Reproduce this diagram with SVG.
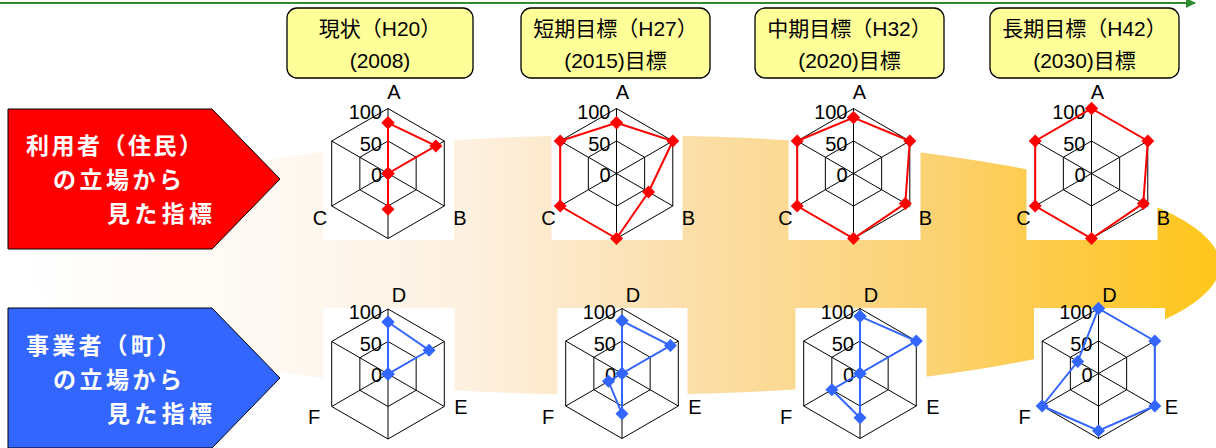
<svg xmlns="http://www.w3.org/2000/svg" xmlns:xlink="http://www.w3.org/1999/xlink" width="1216" height="448" viewBox="0 0 1216 448">
<style>
.hdr{fill:#FFFF99;stroke:#000;stroke-width:1.3}
.ht{font-family:"Liberation Sans","Noto Sans CJK JP",sans-serif;font-size:21px;fill:#000;text-anchor:middle}
.at{font-family:"Noto Sans CJK JP",sans-serif;font-size:23px;font-weight:bold;fill:#fff}
.grid{fill:none;stroke:#000;stroke-width:1}
.lbl{font-family:"Liberation Sans",sans-serif;font-size:20px;fill:#000}
.sc{font-family:"Liberation Sans",sans-serif;font-size:20px;fill:#000;text-anchor:end}
.pr{fill:none;stroke:#FF0000;stroke-width:2;marker-start:url(#mr);marker-mid:url(#mr);marker-end:url(#mr)}
.pb{fill:none;stroke:#3366FF;stroke-width:2;marker-start:url(#mb);marker-mid:url(#mb);marker-end:url(#mb)}
.wb{fill:#fff}
</style>
<defs>
<linearGradient id="band" gradientUnits="userSpaceOnUse" x1="20" y1="0" x2="1220" y2="0">
<stop offset="0" stop-color="#FFFFFF"/>
<stop offset="0.23" stop-color="#FEF8F0"/>
<stop offset="0.375" stop-color="#FDF0DF"/>
<stop offset="0.43" stop-color="#FDEBD0"/>
<stop offset="0.56" stop-color="#FBDEA8"/>
<stop offset="0.77" stop-color="#FCD270"/>
<stop offset="0.825" stop-color="#FDCD55"/>
<stop offset="1" stop-color="#FFC61A"/>
</linearGradient>
<marker id="mr" viewBox="-7 -7 14 14" markerWidth="14" markerHeight="14" markerUnits="userSpaceOnUse" refX="0" refY="0" overflow="visible"><path d="M0,-6.5 6.5,0 0,6.5 -6.5,0Z" fill="#FF0000"/></marker>
<marker id="mb" viewBox="-7 -7 14 14" markerWidth="14" markerHeight="14" markerUnits="userSpaceOnUse" refX="0" refY="0" overflow="visible"><path d="M0,-6.5 6.5,0 0,6.5 -6.5,0Z" fill="#3366FF"/></marker>
<marker id="ga" viewBox="0 0 10 10" markerWidth="10" markerHeight="10" markerUnits="userSpaceOnUse" refX="9" refY="5" orient="auto"><path d="M0,0 10,5 0,10Z" fill="#2E8B2E"/></marker>
<g id="grid">
<polygon class="grid" points="0,-65 56.29,-32.5 56.29,32.5 0,65 -56.29,32.5 -56.29,-32.5"/>
<polygon class="grid" points="0,-32.5 28.15,-16.25 28.15,16.25 0,32.5 -28.15,16.25 -28.15,-16.25"/>
<path class="grid" d="M0,-65V65M-56.29,-32.5L56.29,32.5M56.29,-32.5L-56.29,32.5"/>
<text class="sc" x="-6" y="-55">100</text>
<text class="sc" x="-6" y="-23">50</text>
<text class="sc" x="-6" y="8">0</text>
</g>
</defs>
<rect width="1216" height="448" fill="#fff"/>

<g id="band-arrow">
<ellipse cx="620" cy="265" rx="600" ry="130" fill="url(#band)"/>
</g>

<g id="connectors">
<line x1="0" y1="3" x2="1195" y2="3" stroke="#2E8B2E" stroke-width="2" marker-end="url(#ga)"/>
</g>

<g id="hdr1"><rect class="hdr" x="287" y="8" width="186" height="70" rx="10"/><text class="ht" x="380" y="36">現状（H20）</text><text class="ht" x="380" y="68">(2008)</text></g>
<g id="hdr2"><rect class="hdr" x="521" y="8" width="189" height="70" rx="10"/><text class="ht" x="615.5" y="36">短期目標（H27）</text><text class="ht" x="615.5" y="68">(2015)目標</text></g>
<g id="hdr3"><rect class="hdr" x="755" y="8" width="189" height="70" rx="10"/><text class="ht" x="849.5" y="36">中期目標（H32）</text><text class="ht" x="849.5" y="68">(2020)目標</text></g>
<g id="hdr4"><rect class="hdr" x="990" y="8" width="189" height="70" rx="10"/><text class="ht" x="1084.5" y="36">長期目標（H42）</text><text class="ht" x="1084.5" y="68">(2030)目標</text></g>

<g id="arrow-resident">
<polygon points="8,109 212,109 280,179 212,249 8,249" fill="#FF0000" stroke="#000" stroke-width="1"/>
<text class="at" x="26" y="154" textLength="176" lengthAdjust="spacing">利用者（住民）</text>
<text class="at" x="53" y="187.5" textLength="129" lengthAdjust="spacing">の立場から</text>
<text class="at" x="107" y="222" textLength="105" lengthAdjust="spacing">見た指標</text>
</g>
<g id="arrow-business">
<polygon points="8,308 212,308 280,378 212,448 8,448" fill="#3366FF" stroke="#000" stroke-width="1"/>
<text class="at" x="26" y="354" textLength="154" lengthAdjust="spacing">事業者（町）</text>
<text class="at" x="53" y="387.5" textLength="129" lengthAdjust="spacing">の立場から</text>
<text class="at" x="107" y="422" textLength="105" lengthAdjust="spacing">見た指標</text>
</g>

<g id="chart-a1" transform="translate(388,173.5)">
<rect class="wb" x="-65" y="-65.5" width="131" height="132"/>
<use xlink:href="#grid" href="#grid"/>
<polygon class="pr" points="0,-50.7 47.85,-27.6 0,0 0,35.75 0,0 0,0"/>
<text class="lbl" x="6" y="-75" text-anchor="middle">A</text>
<text class="lbl" x="72" y="51.5" text-anchor="middle">B</text>
<text class="lbl" x="-68" y="51.5" text-anchor="middle">C</text>
</g>
<g id="chart-a2" transform="translate(616.5,173.5)">
<rect class="wb" x="-65" y="-65.5" width="131" height="132"/>
<use xlink:href="#grid" href="#grid"/>
<polygon class="pr" points="0,-50.7 56.29,-32.5 32.09,18.53 0,65 -56.29,32.5 -56.29,-32.5"/>
<text class="lbl" x="6" y="-75" text-anchor="middle">A</text>
<text class="lbl" x="72" y="51.5" text-anchor="middle">B</text>
<text class="lbl" x="-68" y="51.5" text-anchor="middle">C</text>
</g>
<g id="chart-a3" transform="translate(853.5,173.5)">
<rect class="wb" x="-65" y="-65.5" width="132" height="132"/>
<use xlink:href="#grid" href="#grid"/>
<polygon class="pr" points="0,-55.9 56.29,-32.5 51.79,29.9 0,65 -56.29,32.5 -56.29,-32.5"/>
<text class="lbl" x="6" y="-75" text-anchor="middle">A</text>
<text class="lbl" x="72" y="51.5" text-anchor="middle">B</text>
<text class="lbl" x="-68" y="51.5" text-anchor="middle">C</text>
</g>
<g id="chart-a4" transform="translate(1091.5,173.5)">
<rect class="wb" x="-65" y="-65.5" width="131" height="132"/>
<use xlink:href="#grid" href="#grid"/>
<polygon class="pr" points="0,-65 56.29,-32.5 51.79,29.9 0,65 -56.29,32.5 -56.29,-32.5"/>
<text class="lbl" x="6" y="-75" text-anchor="middle">A</text>
<text class="lbl" x="72" y="51.5" text-anchor="middle">B</text>
<text class="lbl" x="-68" y="51.5" text-anchor="middle">C</text>
</g>

<g id="chart-b1" transform="translate(388,374)">
<rect class="wb" x="-64.5" y="-66" width="131" height="140"/>
<use xlink:href="#grid" href="#grid"/>
<polygon class="pb" points="0,-52 41.09,-23.7 0,0 0,0 0,0 0,0"/>
<text class="lbl" x="11" y="-72" text-anchor="middle">D</text>
<text class="lbl" x="73" y="40" text-anchor="middle">E</text>
<text class="lbl" x="-74" y="50" text-anchor="middle">F</text>
</g>
<g id="chart-b2" transform="translate(622,373.5)">
<rect class="wb" x="-64.5" y="-65.5" width="130" height="140"/>
<use xlink:href="#grid" href="#grid"/>
<polygon class="pb" points="0,-52.65 48.41,-27.95 0,0 0,40.3 -13.51,7.8 0,0"/>
<text class="lbl" x="11" y="-72" text-anchor="middle">D</text>
<text class="lbl" x="73" y="40" text-anchor="middle">E</text>
<text class="lbl" x="-74" y="50" text-anchor="middle">F</text>
</g>
<g id="chart-b3" transform="translate(860,373.5)">
<rect class="wb" x="-64.5" y="-65.5" width="131" height="140"/>
<use xlink:href="#grid" href="#grid"/>
<polygon class="pb" points="0,-57.2 56.29,-32.5 0,0 0,44.2 -28.15,16.25 0,0"/>
<text class="lbl" x="11" y="-72" text-anchor="middle">D</text>
<text class="lbl" x="73" y="40" text-anchor="middle">E</text>
<text class="lbl" x="-74" y="50" text-anchor="middle">F</text>
</g>
<g id="chart-b4" transform="translate(1098.5,373.5)">
<rect class="wb" x="-64.5" y="-65.5" width="131" height="140"/>
<use xlink:href="#grid" href="#grid"/>
<polygon class="pb" points="0,-65 56.29,-32.5 56.29,32.5 0,57.2 -56.29,32.5 -20.78,-12"/>
<text class="lbl" x="11" y="-72" text-anchor="middle">D</text>
<text class="lbl" x="73" y="40" text-anchor="middle">E</text>
<text class="lbl" x="-74" y="50" text-anchor="middle">F</text>
</g>
</svg>
